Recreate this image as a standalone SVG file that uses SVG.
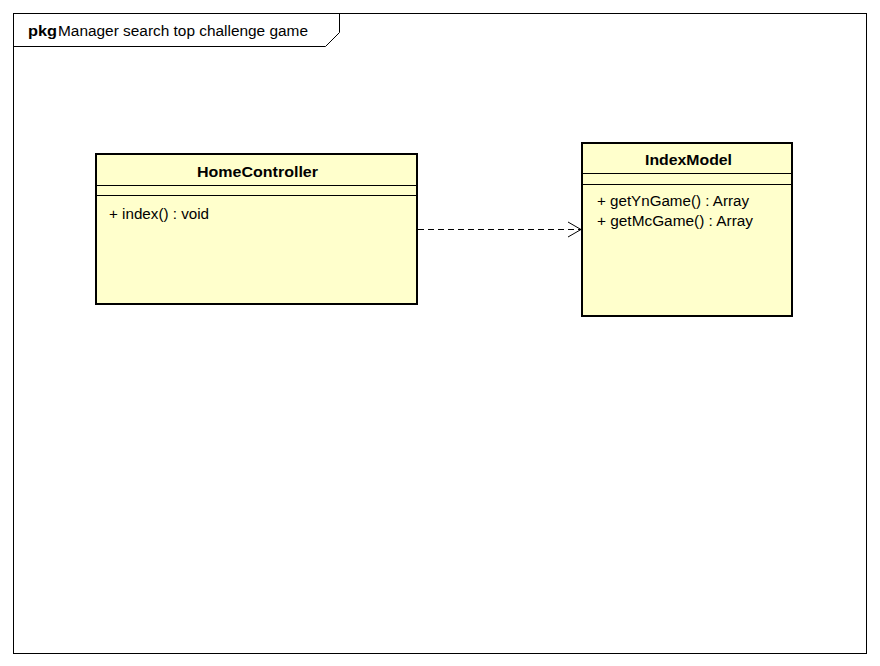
<svg xmlns="http://www.w3.org/2000/svg" width="880" height="666" viewBox="0 0 880 666">
<style>
.frame{fill:none;stroke:#000;stroke-width:1}
.cls{fill:#FFFFCC;stroke:#000;stroke-width:2}
.sep{stroke:#000;stroke-width:1}
text{font-family:"Liberation Sans",Arial,sans-serif;font-size:14px;fill:#000}
.title{font-weight:bold}
.dep{fill:none;stroke:#000;stroke-width:1;stroke-dasharray:6,4}
.head{fill:none;stroke:#000;stroke-width:1}
</style>
<rect width="880" height="666" fill="#fff"/>
<g id="frame">
<rect class="frame" x="13.5" y="13.5" width="853" height="640"/>
<path class="frame" d="M13.5,46.5 H325.5 L339.5,32.5 V13.5"/>
<text x="28" y="36" class="title" textLength="29" lengthAdjust="spacingAndGlyphs">pkg</text>
<text x="58" y="36" textLength="250" lengthAdjust="spacingAndGlyphs">Manager search top challenge game</text>
</g>
<g id="HomeController">
<rect class="cls" x="96" y="154" width="321" height="150"/>
<line class="sep" x1="96" y1="185.5" x2="417" y2="185.5"/>
<line class="sep" x1="96" y1="195.5" x2="417" y2="195.5"/>
<text class="title" x="197" y="176.5" textLength="121" lengthAdjust="spacingAndGlyphs">HomeController</text>
<text x="109" y="218.5" textLength="100" lengthAdjust="spacingAndGlyphs">+ index() : void</text>
</g>
<g id="IndexModel">
<rect class="cls" x="582" y="143" width="210" height="173"/>
<line class="sep" x1="582" y1="173.5" x2="792" y2="173.5"/>
<line class="sep" x1="582" y1="184.5" x2="792" y2="184.5"/>
<text class="title" x="645" y="164.5" textLength="87" lengthAdjust="spacingAndGlyphs">IndexModel</text>
<text x="597" y="206" textLength="152" lengthAdjust="spacingAndGlyphs">+ getYnGame() : Array</text>
<text x="597" y="226" textLength="156" lengthAdjust="spacingAndGlyphs">+ getMcGame() : Array</text>
</g>
<g id="connectors">
<line class="dep" x1="418" y1="229.5" x2="581" y2="229.5"/>
<path class="head" d="M568,222 L581,229.5 L568,237"/>
</g>
</svg>
